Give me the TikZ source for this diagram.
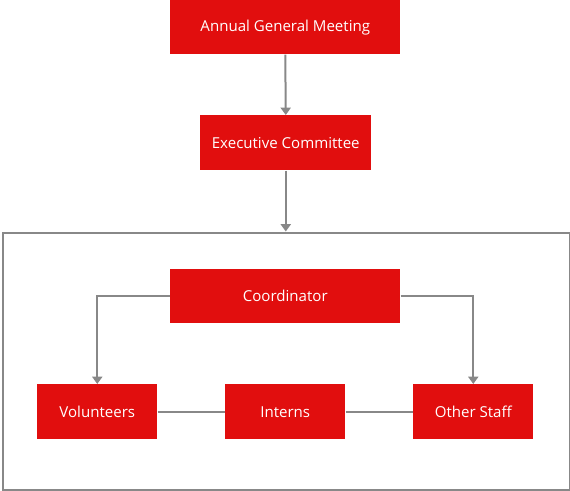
\documentclass[tikz,border=0pt]{standalone}
\usepackage{fontspec}
\setmainfont{Open Sans}
\usetikzlibrary{arrows.meta}
\definecolor{boxred}{HTML}{E10E0E}
\definecolor{linegray}{HTML}{888888}
\begin{document}
\begin{tikzpicture}[x=0.75pt,y=-0.75pt,
  box/.style={fill=boxred,draw=none,text=white,font=\fontsize{11.3}{13}\selectfont,inner sep=0pt,anchor=north west},
  conn/.style={draw=linegray,line width=1.5pt},
  arr/.style={conn,-{Triangle[width=7.5pt,length=5.5pt]}}]
\useasboundingbox (0,0) rectangle (570,490);
\node[box,minimum width=230*0.75pt,minimum height=54*0.75pt] (agm) at (170,0) {Annual General Meeting};
\node[box,minimum width=171*0.75pt,minimum height=55*0.75pt] (exec) at (200,115) {Executive Committee};
\node[draw=linegray,line width=1.5pt,minimum width=567*0.75pt,minimum height=257*0.75pt,inner sep=0pt,anchor=north west] (outer) at (1.5,231.5) {};
\node[box,minimum width=230*0.75pt,minimum height=54*0.75pt] (coord) at (170,269) {Coordinator};
\node[box,minimum width=120*0.75pt,minimum height=55*0.75pt] (vol) at (37,384) {Volunteers};
\node[box,minimum width=120*0.75pt,minimum height=55*0.75pt] (int) at (225,384) {Interns};
\node[box,minimum width=120*0.75pt,minimum height=55*0.75pt] (oth) at (413,384) {Other Staff};
\draw[arr] (agm.south) -- (exec.north);
\draw[arr] (exec.south) -- (exec.south |- outer.north);
\draw[arr] (coord.west) -| (vol.north);
\draw[arr] (coord.east) -| (oth.north);
\draw[conn] (vol.east) -- (int.west);
\draw[conn] (int.east) -- (oth.west);
\end{tikzpicture}
\end{document}
